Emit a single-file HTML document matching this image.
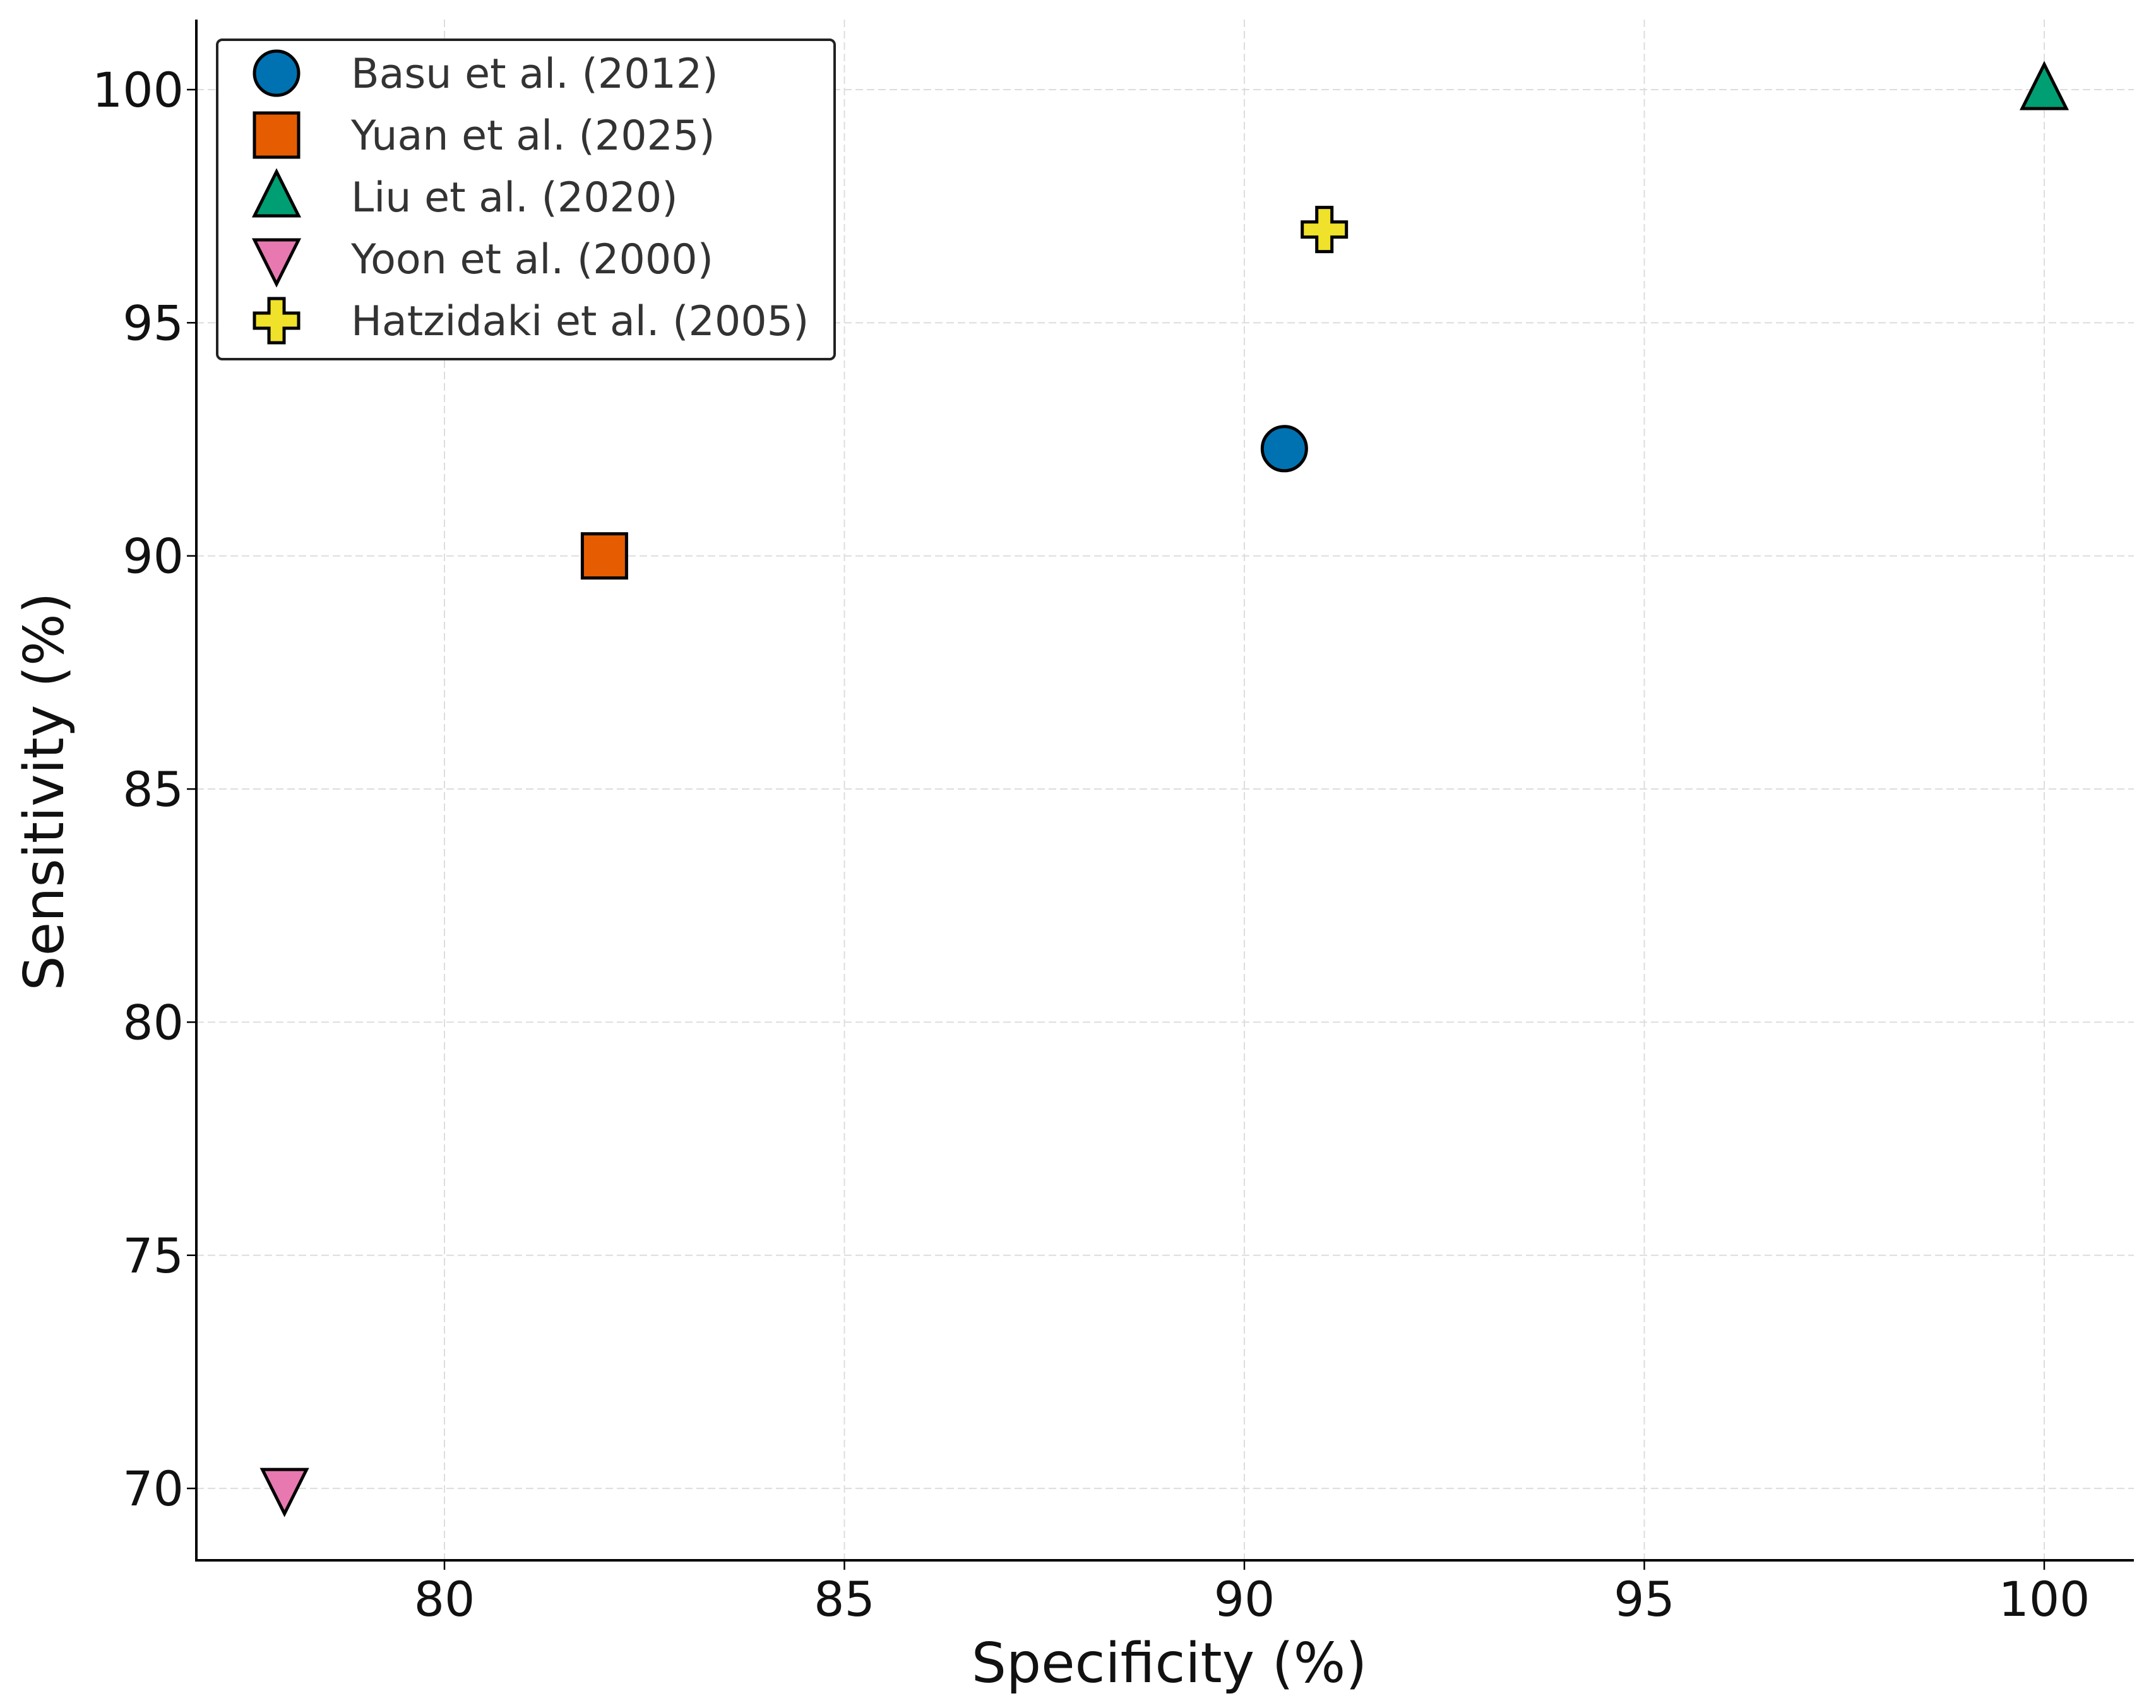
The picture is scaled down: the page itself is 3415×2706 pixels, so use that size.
<!DOCTYPE html>
<html><head><meta charset="utf-8"><style>body{margin:0;background:#fff}svg{display:block}</style></head>
<body>
<svg id="chart" width="3415" height="2706" xmlns="http://www.w3.org/2000/svg" font-family="'DejaVu Sans','Liberation Sans',sans-serif">
<rect width="3415" height="2706" fill="#fff"/>
<g id="grid"></g><g id="axes"></g><g id="marks"></g><g id="legend"></g>
</svg>
<script>
const studies = ["Basu et al. (2012)","Yuan et al. (2025)","Liu et al. (2020)","Yoon et al. (2000)","Hatzidaki et al. (2005)"];
const specificity = [90.5, 82, 100, 78, 91];
const sensitivity = [92.3, 90, 100, 70, 97];
const shapes = ["circle","square","triangle","triangle-down","plus"];
const colors = ["#0072B2","#E65C00","#009E73","#E879B0","#F0E12A"];
const xTicks = [80,85,90,95,100];
const yTicks = [70,75,80,85,90,95,100];

const L=311,R=3380,T=31,B=2472;
const X=v=>704+(v-80)*126.7;
const Y=v=>142+(100-v)*73.87;
const NS="http://www.w3.org/2000/svg";
function mk(tag,attrs,parent,text){const e=document.createElementNS(NS,tag);for(const k in attrs)e.setAttribute(k,attrs[k]);if(text!==undefined)e.textContent=text;parent.appendChild(e);return e;}
const grid=document.getElementById('grid'),axes=document.getElementById('axes'),marks=document.getElementById('marks'),leg=document.getElementById('legend');

xTicks.forEach(t=>{
  const gl=mk('line',{x1:X(t),x2:X(t),y1:T,y2:B,stroke:'#ddd','stroke-width':2,'stroke-dasharray':'12,6'},grid);
  
  
  mk('line',{x1:X(t),x2:X(t),y1:B,y2:B+15,stroke:'#000','stroke-width':2.5},axes);
  const tl=mk('text',{x:X(t),y:2560,'text-anchor':'middle','font-size':76,fill:'#111'},axes,String(t));
  
  
});
yTicks.forEach(t=>{
  const gl=mk('line',{x1:L,x2:R,y1:Y(t),y2:Y(t),stroke:'#ddd','stroke-width':2,'stroke-dasharray':'12,6'},grid);
  
  
  mk('line',{x1:L-15,x2:L,y1:Y(t),y2:Y(t),stroke:'#000','stroke-width':2.5},axes);
  const tl=mk('text',{x:291,y:Y(t)+27,'text-anchor':'end','font-size':76,fill:'#111'},axes,String(t));
  
  
});
const ax=mk('path',{d:`M${L},${T} V${B} H${R}`,fill:'none',stroke:'#000','stroke-width':4},axes);


const xt=mk('text',{x:1852,y:2665,'text-anchor':'middle','font-size':87,fill:'#111'},axes,'Specificity (%)');


const yt=mk('text',{x:0,y:0,'text-anchor':'middle','font-size':87,fill:'#111',transform:'translate(100,1254) rotate(-90)'},axes,'Sensitivity (%)');



function marker(shape,cx,cy,color,parent){
  const s=35, st={fill:color,stroke:'#000','stroke-width':5,'stroke-linejoin':'miter'};
  let e;
  if(shape==='circle') e=mk('circle',Object.assign({cx,cy,r:s},st),parent);
  else if(shape==='square') e=mk('rect',Object.assign({x:cx-s,y:cy-s,width:2*s,height:2*s},st),parent);
  else if(shape==='triangle') e=mk('polygon',Object.assign({points:`${cx},${cy-s-5} ${cx-s},${cy+s-5} ${cx+s},${cy+s-5}`},st),parent);
  else if(shape==='triangle-down') e=mk('polygon',Object.assign({points:`${cx},${cy+s+5} ${cx-s},${cy-s+5} ${cx+s},${cy-s+5}`},st),parent);
  else {const a=s,b=12;e=mk('polygon',Object.assign({points:`${cx-b},${cy-a} ${cx+b},${cy-a} ${cx+b},${cy-b} ${cx+a},${cy-b} ${cx+a},${cy+b} ${cx+b},${cy+b} ${cx+b},${cy+a} ${cx-b},${cy+a} ${cx-b},${cy+b} ${cx-a},${cy+b} ${cx-a},${cy-b} ${cx-b},${cy-b}`},st),parent);}
  return e;
}
studies.forEach((s,i)=>{
  const m=marker(shapes[i],X(specificity[i]),Y(sensitivity[i]),colors[i],marks);
  
  
});
const box=mk('rect',{x:344,y:63,width:978,height:506,rx:8,fill:'#fff',stroke:'#222','stroke-width':4},leg);


studies.forEach((s,i)=>{
  const cy=116+i*98;
  const m=marker(shapes[i],438,cy,colors[i],leg);
  
  
  const t=mk('text',{x:556,y:cy+23,'font-size':65,fill:'#333'},leg,s);
  
  
});
</script>
</body></html>
